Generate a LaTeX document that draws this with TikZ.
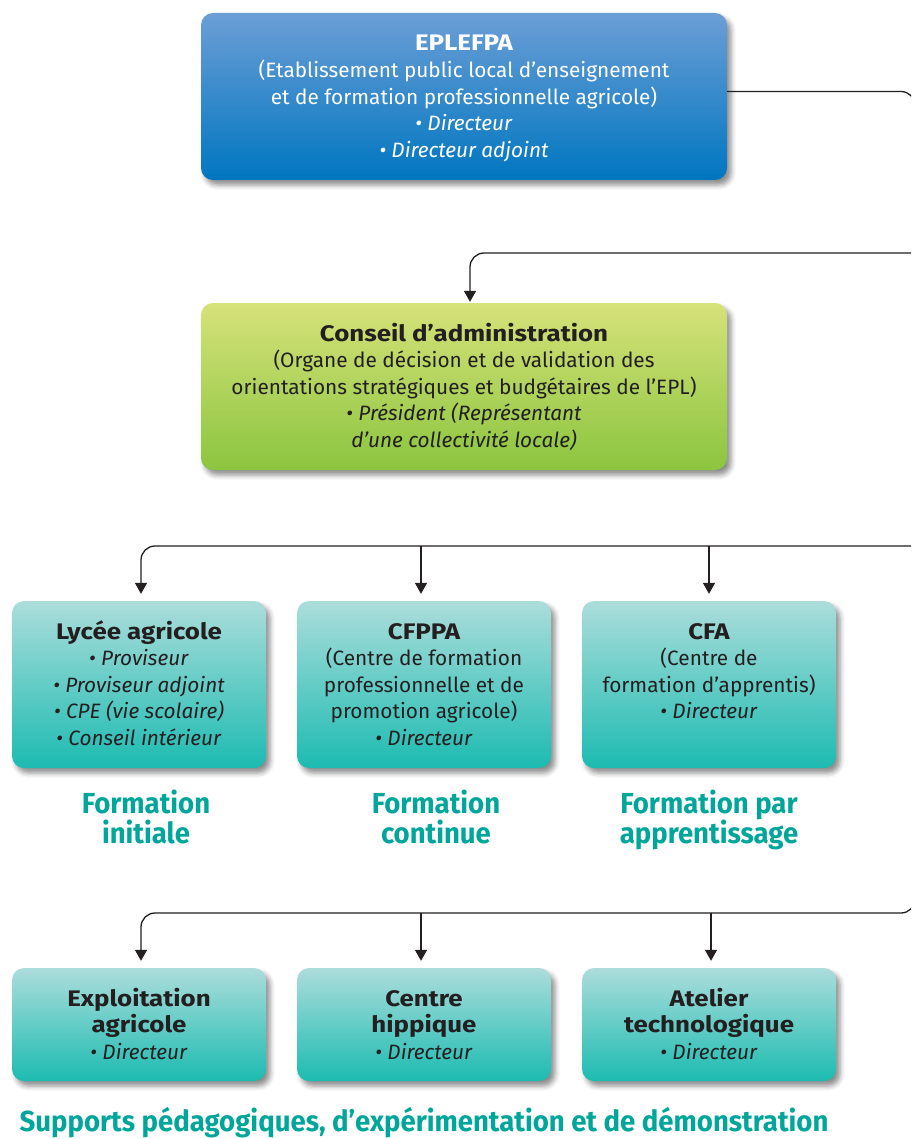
\documentclass[tikz,border=0pt]{standalone}
\usepackage{fontspec}
\setmainfont{Fira Sans}
\newfontfamily\condfont{Fira Sans}[FakeStretch=0.95]
\newfontfamily\widefont{Fira Sans}[FakeStretch=1.15]
\newcommand\ttl[1]{{\widefont\bfseries\fontsize{22.5}{26.6}\selectfont #1}}
\usetikzlibrary{arrows.meta,shadows.blur}
\definecolor{bluetop}{RGB}{108,158,214}
\definecolor{bluebot}{RGB}{0,118,192}
\definecolor{greentop}{RGB}{214,226,122}
\definecolor{greenbot}{RGB}{139,197,63}
\definecolor{tealtop}{RGB}{172,221,219}
\definecolor{tealbot}{RGB}{28,187,177}
\definecolor{labgreen}{RGB}{0,166,153}
\definecolor{ink}{RGB}{35,31,32}
\begin{document}
\begin{tikzpicture}[x=1pt,y=-1pt,
  box/.style={rounded corners=12pt, inner sep=0pt, draw=none,
    blur shadow={shadow xshift=4pt,shadow yshift=-5pt,shadow blur radius=5pt,shadow opacity=45}},
  bigbox/.style={box, minimum width=526pt, minimum height=167pt},
  midbox/.style={box, minimum width=254pt, minimum height=167pt, top color=tealtop, bottom color=tealbot},
  lowbox/.style={box, minimum width=254pt, minimum height=113pt, top color=tealtop, bottom color=tealbot},
  txt/.style={inner sep=0pt, anchor=north, align=center, text=ink,
    font=\fontsize{20.8}{26.6}\selectfont},
  lab/.style={inner sep=0pt, anchor=north, align=center, text=labgreen,
    font=\condfont\bfseries\fontsize{29}{30.5}\selectfont},
  conn/.style={draw=ink, line width=1.3pt, rounded corners=14pt},
  arr/.style={conn, -{Triangle[width=12pt,length=11pt]}}
]
\useasboundingbox (0,0) rectangle (911,1139);
\clip (0,0) rectangle (911,1139);

% boxes
\node[bigbox, top color=bluetop, bottom color=bluebot] (epl) at (464,96.5) {};
\node[bigbox, top color=greentop, bottom color=greenbot] (ca) at (464,386.5) {};
\node[midbox] (lyc) at (139,684.5) {};
\node[midbox] (cfppa) at (424,684.5) {};
\node[midbox] (cfa) at (709,684.5) {};
\node[lowbox] (expl) at (139,1024.5) {};
\node[lowbox] (hip) at (424,1024.5) {};
\node[lowbox] (atel) at (709,1024.5) {};

% texts
\node[txt, text=white] (epltxt) at ([yshift=-18pt]epl.north)
  {\rule{0pt}{20pt}\ttl{EPLEFPA}\\(Etablissement public local d’enseignement\\et de formation professionnelle agricole)\\\textit{• Directeur}\\\textit{• Directeur adjoint}};
\node[txt] (catxt) at ([yshift=-18pt]ca.north)
  {\rule{0pt}{20pt}\ttl{Conseil d’administration}\\(Organe de décision et de validation des\\orientations stratégiques et budgétaires de l’EPL)\\\textit{• Président (Représentant}\\\textit{d’une collectivité locale)}};
\node[txt] (lyctxt) at ([yshift=-18pt]lyc.north)
  {\rule{0pt}{20pt}\ttl{Lycée agricole}\\\textit{• Proviseur}\\\textit{• Proviseur adjoint}\\\textit{• CPE (vie scolaire)}\\\textit{• Conseil intérieur}};
\node[txt] (cfppatxt) at ([yshift=-18pt]cfppa.north)
  {\rule{0pt}{20pt}\ttl{CFPPA}\\(Centre de formation\\professionnelle et de\\promotion agricole)\\\textit{• Directeur}};
\node[txt] (cfatxt) at ([yshift=-18pt]cfa.north)
  {\rule{0pt}{20pt}\ttl{CFA}\\(Centre de\\formation d’apprentis)\\\textit{• Directeur}};
\node[txt] (expltxt) at ([yshift=-18pt]expl.north)
  {\rule{0pt}{20pt}\ttl{Exploitation}\\\ttl{agricole}\\\textit{• Directeur}};
\node[txt] (hiptxt) at ([yshift=-18pt]hip.north)
  {\rule{0pt}{20pt}\ttl{Centre}\\\ttl{hippique}\\\textit{• Directeur}};
\node[txt] (ateltxt) at ([yshift=-18pt]atel.north)
  {\rule{0pt}{20pt}\ttl{Atelier}\\\ttl{technologique}\\\textit{• Directeur}};

% labels
\node[lab] (lab1) at (146,789) {\rule{0pt}{24pt}Formation\\initiale};
\node[lab] (lab2) at (436,789) {\rule{0pt}{24pt}Formation\\continue};
\node[lab] (lab3) at (709,789) {\rule{0pt}{24pt}Formation par\\apprentissage};
\node[lab] (lab4) at (424,1107) {\rule{0pt}{24pt}Supports pédagogiques, d’expérimentation et de démonstration};

% connectors
\coordinate (t0) at (915,91.5);
\coordinate (t1) at (915,253);
\coordinate (t2) at (915,546);
\coordinate (t3) at (915,913);
\draw[arr] ([yshift=5pt]epl.east) -- (t0) -- (t3) -- ([xshift=2pt]t3 -| expl.north) -- ([xshift=2pt,yshift=7pt]expl.north);
\draw[arr] (t1) -- ([xshift=6pt]t1 -| ca.north) -- ([xshift=6pt,yshift=1pt]ca.north);
\draw[arr] (t2) -- ([xshift=2pt]t2 -| lyc.north) -- ([xshift=2pt,yshift=7pt]lyc.north);
\draw[arr] ([xshift=-3pt]t2 -| cfppa.north) -- ([xshift=-3pt,yshift=7pt]cfppa.north);
\draw[arr] (t2 -| cfa.north) -- ([yshift=7pt]cfa.north);
\draw[arr] ([xshift=-3pt]t3 -| hip.north) -- ([xshift=-3pt,yshift=7pt]hip.north);
\draw[arr] ([xshift=2pt]t3 -| atel.north) -- ([xshift=2pt,yshift=7pt]atel.north);
\end{tikzpicture}
\end{document}
